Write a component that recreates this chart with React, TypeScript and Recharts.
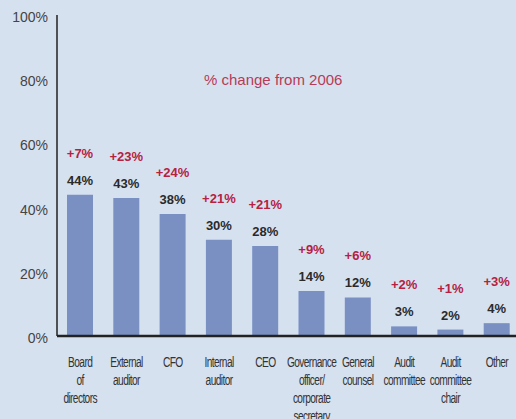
import React from "react";
import { BarChart, Bar, XAxis, YAxis, LabelList } from "recharts";

const categories = [
  "Board\nof\ndirectors",
  "External\nauditor",
  "CFO",
  "Internal\nauditor",
  "CEO",
  "Governance\nofficer/\ncorporate\nsecretary",
  "General\ncounsel",
  "Audit\ncommittee",
  "Audit\ncommittee\nchair",
  "Other",
];
const values = [44, 43, 38, 30, 28, 14, 12, 3, 2, 4];
const changes = ["+7%", "+23%", "+24%", "+21%", "+21%", "+9%", "+6%", "+2%", "+1%", "+3%"];
const yTicks = [0, 20, 40, 60, 80, 100];
const title = "% change from 2006";

const data = categories.map((c, i) => ({ name: c, value: values[i], change: changes[i] }));

const XTick = (props: any) => {
  const { x, y, payload } = props;
  const lines = String(payload.value).split("\n");
  return (
    <g transform={`translate(${x},${y}) scale(0.68,1)`}>
      {lines.map((l, i) => (
        <text
          key={i}
          x={0}
          y={i * 18}
          dy={15}
          textAnchor="middle"
          fontFamily="'Liberation Sans', Arial, sans-serif"
          fontSize={15}
          letterSpacing={-0.9}
          fill="#333"
        >
          {l}
        </text>
      ))}
    </g>
  );
};

const YTick = (props: any) => {
  const { x, y, payload } = props;
  return (
    <text
      x={x}
      y={y}
      dy={7}
      textAnchor="end"
      fontFamily="'Liberation Sans', Arial, sans-serif"
      fontSize={14}
      fill="#444"
    >
      {payload.value}%
    </text>
  );
};

const TopLabels = (props: any) => {
  const { x, y, width, index } = props;
  const cx = x + width / 2;
  return (
    <g>
      <text
        x={cx}
        y={y - 10}
        textAnchor="middle"
        fontFamily="'Liberation Sans', Arial, sans-serif"
        fontWeight="bold"
        fontSize={13}
        fill="#2a2a2a"
      >
        {values[index]}%
      </text>
      <text
        x={cx}
        y={y - 37}
        textAnchor="middle"
        fontFamily="'Liberation Sans', Arial, sans-serif"
        fontWeight="bold"
        fontSize={13}
        fill="#b5213f"
      >
        {changes[index]}
      </text>
    </g>
  );
};

export default function App() {
  return (
    <div
      style={{
        position: "absolute",
        left: 0,
        top: 0,
        width: 516,
        height: 419,
        background: "#d6e1f0",
        overflow: "hidden",
      }}
    >
      <div
        style={{
          position: "absolute",
          left: 204,
          top: 71,
          fontFamily: "'Liberation Sans', Arial, sans-serif",
          fontSize: 15,
          color: "#b73b57",
          whiteSpace: "nowrap",
        }}
      >
        {title}
      </div>
      <BarChart
        width={524}
        height={419}
        data={data}
        margin={{ top: 15, right: 4, left: 0, bottom: 0 }}
      >
        <YAxis
          type="number"
          domain={[0, 100]}
          ticks={yTicks}
          width={57}
          tickLine={false}
          axisLine={{ stroke: "#222", strokeWidth: 1.5 }}
          tick={<YTick />}
          tickMargin={3}
          interval={0}
        />
        <XAxis
          dataKey="name"
          height={83}
          tickLine={false}
          axisLine={{ stroke: "#222", strokeWidth: 2.5 }}
          tick={<XTick />}
          tickMargin={10}
          interval={0}
        />
        <Bar dataKey="value" fill="#7a90c3" barSize={26} isAnimationActive={false}>
          <LabelList dataKey="value" content={<TopLabels />} />
        </Bar>
      </BarChart>
    </div>
  );
}
